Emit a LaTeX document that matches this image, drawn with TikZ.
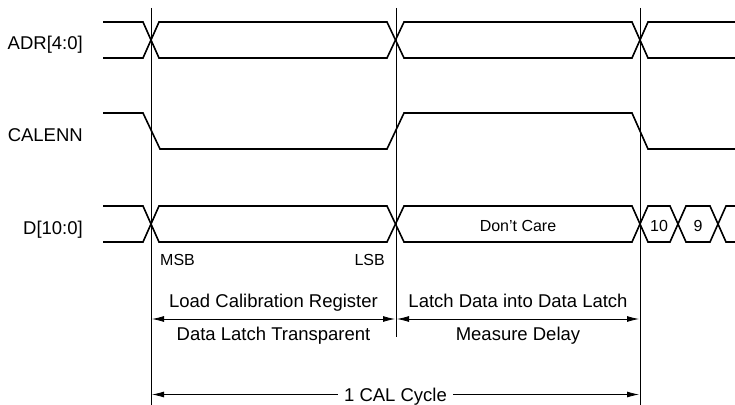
\documentclass[tikz,border=0pt]{standalone}
\usepackage{fontspec}
\setmainfont{Liberation Sans}
\usetikzlibrary{arrows.meta}

\begin{document}
\begin{tikzpicture}[x=1pt,y=-1pt,
  >={Latex[length=12pt,width=6pt]},
  wave/.style={line width=1.6pt, line join=miter},
  marker/.style={line width=0.7pt},
  big/.style={font=\fontsize{18.5}{21}\selectfont, inner sep=0pt},
  small/.style={font=\fontsize{16}{18}\selectfont, inner sep=0pt},
  span/.style={line width=0.8pt}]
\useasboundingbox (0,0) rectangle (735,404);

% signal names
\node[big, anchor=base east] (adr) at (83,49) {ADR[4:0]};
\node[big, anchor=base east] (cal) at (83,141) {CALENN};
\node[big, anchor=base east] (dat) at (83,234) {D[10:0]};

% ADR[4:0] bus
\draw[wave] (103,22) -- (143,22) -- (159,58) -- (387,58) -- (404,22) -- (632,22) -- (648,58) -- (736,58);
\draw[wave] (103,58) -- (143,58) -- (159,22) -- (387,22) -- (404,58) -- (632,58) -- (648,22) -- (736,22);

% CALENN level
\draw[wave] (103,113) -- (143,113) -- (160,149) -- (387,149) -- (404,113) -- (632,113) -- (648,149) -- (736,149);

% D[10:0] bus
\draw[wave] (103,206) -- (143,206) -- (159,242) -- (387,242) -- (404,206) -- (632,206) -- (648,242)
  -- (670,242) -- (686,206) -- (710,206) -- (726,242) -- (736,242);
\draw[wave] (103,242) -- (143,242) -- (159,206) -- (387,206) -- (404,242) -- (632,242) -- (648,206)
  -- (670,206) -- (686,242) -- (710,242) -- (726,206) -- (736,206);

\node[small, anchor=base] (dc) at (518,231) {Don’t Care};
\node[small, anchor=base] (b10) at (659,231) {10};
\node[small, anchor=base] (b9) at (698,231) {9};
\node[small, anchor=base west] (msb) at (160,265) {MSB};
\node[small, anchor=base east] (lsb) at (385,265) {LSB};

% timing markers
\coordinate (t1) at (151,8);  \coordinate (b1) at (151,405);
\coordinate (t2) at (396,8);  \coordinate (b2) at (396,337);
\coordinate (t3) at (640,8);  \coordinate (b3) at (640,405);
\draw[marker] (t1) -- (b1);
\draw[marker] (t2) -- (b2);
\draw[marker] (t3) -- (b3);

% phase spans
\coordinate (p1l) at (152,319); \coordinate (p1r) at (395,319);
\coordinate (p2l) at (397,319); \coordinate (p2r) at (639,319);
\draw[span, <->] (p1l) -- (p1r);
\draw[span, <->] (p2l) -- (p2r);
\node[big, anchor=base] (load) at (273.5,307) {Load Calibration Register};
\node[big, anchor=base] (transp) at (273.5,340) {Data Latch Transparent};
\node[big, anchor=base] (latch) at (518,307) {Latch Data into Data Latch};
\node[big, anchor=base] (meas) at (518,340) {Measure Delay};

% full cycle
\coordinate (cl) at (152,394.5); \coordinate (cr) at (639,394.5);
\node[big, anchor=base] (cyc) at (395.5,401) {1 CAL Cycle};
\draw[span, <-] (cl) -- ([xshift=-6pt]cyc.west |- cl);
\draw[span, ->] ([xshift=6pt]cyc.east |- cr) -- (cr);
\end{tikzpicture}
\end{document}
